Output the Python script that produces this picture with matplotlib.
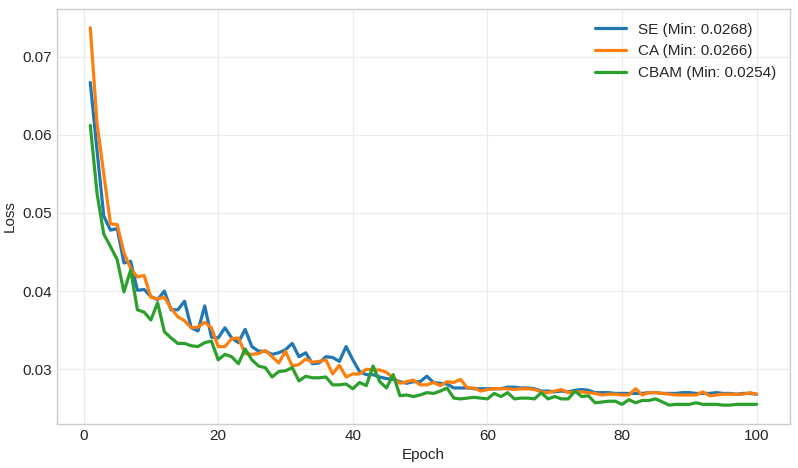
import numpy as np
import matplotlib
matplotlib.use("Agg")
import matplotlib.pyplot as plt

# loss per epoch
epochs = np.arange(1, 101)

se_loss = [
	0.0667, 0.0580, 0.0496, 0.0478, 0.0480, 0.0436, 0.0438, 0.0401, 0.0402, 0.0393,
	0.0389, 0.0400, 0.0376, 0.0376, 0.0387, 0.0353, 0.0349, 0.0381, 0.0341, 0.0340,
	0.0353, 0.0340, 0.0334, 0.0351, 0.0329, 0.0323, 0.0323, 0.0319, 0.0321, 0.0325,
	0.0333, 0.0316, 0.0321, 0.0307, 0.0308, 0.0316, 0.0315, 0.0310, 0.0329, 0.0312,
	0.0297, 0.0293, 0.0293, 0.0290, 0.0288, 0.0287, 0.0284, 0.0282, 0.0284, 0.0284,
	0.0291, 0.0283, 0.0282, 0.0281, 0.0276, 0.0276, 0.0276, 0.0275, 0.0275, 0.0275,
	0.0275, 0.0275, 0.0277, 0.0277, 0.0276, 0.0276, 0.0275, 0.0272, 0.0272, 0.0271,
	0.0272, 0.0271, 0.0273, 0.0274, 0.0273, 0.0270, 0.0270, 0.0270, 0.0269, 0.0269,
	0.0269, 0.0269, 0.0269, 0.0270, 0.0270, 0.0269, 0.0269, 0.0269, 0.0270, 0.0270,
	0.0269, 0.0269, 0.0269, 0.0270, 0.0269, 0.0269, 0.0268, 0.0269, 0.0269, 0.0268,
]

ca_loss = [
	0.0737, 0.0615, 0.0550, 0.0486, 0.0485, 0.0449, 0.0429, 0.0418, 0.0420, 0.0392,
	0.0390, 0.0392, 0.0378, 0.0367, 0.0362, 0.0353, 0.0354, 0.0360, 0.0353, 0.0329,
	0.0329, 0.0339, 0.0340, 0.0320, 0.0319, 0.0320, 0.0324, 0.0316, 0.0308, 0.0323,
	0.0304, 0.0306, 0.0313, 0.0309, 0.0310, 0.0312, 0.0294, 0.0305, 0.0290, 0.0294,
	0.0294, 0.0300, 0.0299, 0.0299, 0.0296, 0.0289, 0.0282, 0.0284, 0.0286, 0.0280,
	0.0280, 0.0283, 0.0279, 0.0284, 0.0283, 0.0287, 0.0276, 0.0276, 0.0272, 0.0274,
	0.0275, 0.0275, 0.0275, 0.0274, 0.0275, 0.0275, 0.0274, 0.0271, 0.0270, 0.0272,
	0.0274, 0.0270, 0.0271, 0.0271, 0.0270, 0.0269, 0.0267, 0.0268, 0.0268, 0.0267,
	0.0267, 0.0275, 0.0267, 0.0270, 0.0270, 0.0269, 0.0268, 0.0267, 0.0267, 0.0267,
	0.0267, 0.0271, 0.0266, 0.0267, 0.0268, 0.0268, 0.0268, 0.0268, 0.0270, 0.0268,
]

cbam_loss = [
	0.0612, 0.0525, 0.0473, 0.0457, 0.0440, 0.0399, 0.0427, 0.0376, 0.0373, 0.0363,
	0.0385, 0.0348, 0.0340, 0.0333, 0.0333, 0.0330, 0.0329, 0.0334, 0.0336, 0.0312,
	0.0319, 0.0316, 0.0307, 0.0326, 0.0312, 0.0304, 0.0302, 0.0290, 0.0297, 0.0298,
	0.0302, 0.0285, 0.0291, 0.0289, 0.0289, 0.0290, 0.0280, 0.0280, 0.0281, 0.0275,
	0.0283, 0.0279, 0.0304, 0.0284, 0.0276, 0.0293, 0.0266, 0.0267, 0.0265, 0.0267,
	0.0270, 0.0269, 0.0272, 0.0276, 0.0263, 0.0262, 0.0263, 0.0264, 0.0263, 0.0262,
	0.0269, 0.0265, 0.0270, 0.0262, 0.0263, 0.0263, 0.0262, 0.0270, 0.0262, 0.0265,
	0.0262, 0.0262, 0.0272, 0.0265, 0.0266, 0.0257, 0.0258, 0.0259, 0.0259, 0.0255,
	0.0261, 0.0257, 0.0260, 0.0260, 0.0262, 0.0258, 0.0254, 0.0255, 0.0255, 0.0255,
	0.0257, 0.0255, 0.0255, 0.0255, 0.0254, 0.0254, 0.0255, 0.0255, 0.0255, 0.0255,
]

names = ["SE", "CA", "CBAM"]
colors = ["#1f77b4", "#ff7f0e", "#2ca02c"]

plt.style.use("seaborn-v0_8-whitegrid")
plt.rcParams["font.family"] = ["Liberation Sans", "DejaVu Sans"]

fig, ax = plt.subplots(figsize=(7.98, 4.68), dpi=100)
fig.subplots_adjust(left=0.0714, right=0.990, bottom=0.094, top=0.981)

for name, loss, col in zip(names, [se_loss, ca_loss, cbam_loss], colors):
	ax.plot(epochs, loss, color=col, lw=2.3, label=f"{name} (Min: {min(loss):.4f})")

ax.set_xlabel("Epoch", fontsize=11, color="#262626")
ax.set_ylabel("Loss", fontsize=11, color="#262626")
ax.tick_params(labelsize=11, colors="#262626")
ax.grid(True, color="#ebebeb", lw=0.9)
for sp in ax.spines.values():
	sp.set_visible(True)
	sp.set_color("#cccccc")
	sp.set_linewidth(1.0)

ax.legend(loc="upper right", fontsize=11, frameon=False)

fig.savefig("out.png", dpi=100)
